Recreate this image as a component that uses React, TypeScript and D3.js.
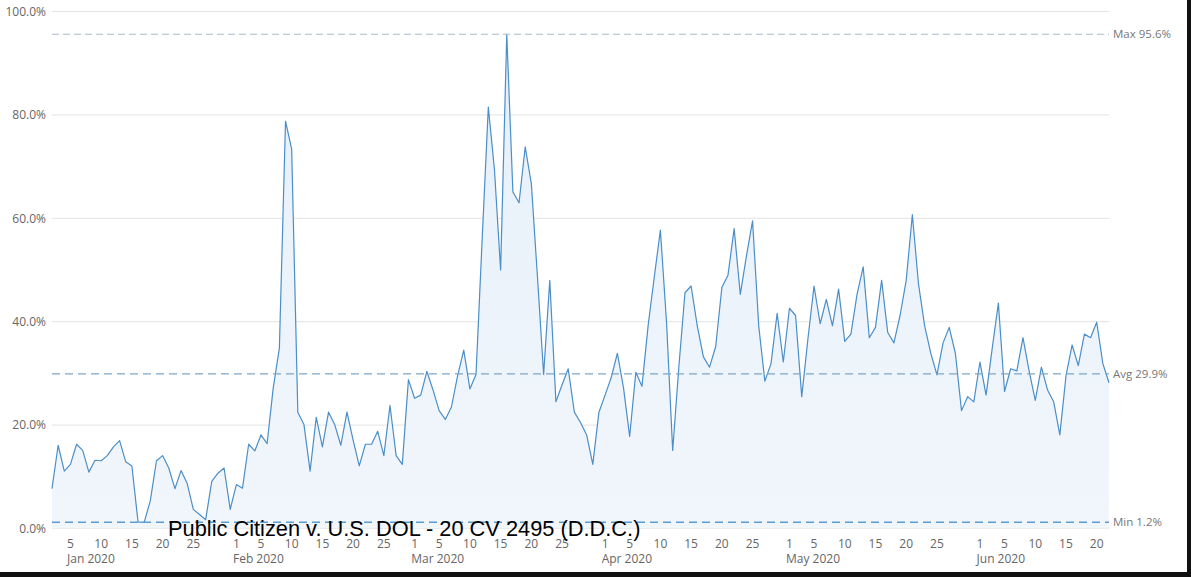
import React from "react";
import * as d3 from "d3";

// ---- data ----
const startDate = Date.UTC(2020, 0, 2); // first data point (Jan 2 2020)
const values: number[] = [
  // Jan 2 - Jan 31
  7.7, 16.1, 11.1, 12.4, 16.3, 15.1, 10.9, 13.2, 13.1, 14.1,
  15.8, 17.0, 12.9, 12.1, 1.3, 1.2, 5.4, 13.1, 14.1, 11.7,
  7.7, 11.2, 8.7, 3.7, 2.7, 1.7, 9.1, 10.7, 11.7, 3.7,
  // Feb 1 - Feb 29
  8.5, 7.8, 16.3, 15.0, 18.1, 16.4, 27.2, 34.9, 78.8, 73.4,
  22.5, 20.1, 11.1, 21.5, 15.8, 22.5, 20.1, 16.1, 22.5, 17.1,
  12.1, 16.3, 16.3, 18.8, 14.1, 23.8, 14.1, 12.4, 28.8,
  // Mar 1 - Mar 31
  25.2, 25.8, 30.4, 26.8, 22.8, 21.1, 23.5, 29.5, 34.5, 27.0,
  29.8, 56.0, 81.5, 69.4, 50.0, 95.6, 65.1, 63.0, 73.8, 66.7,
  48.6, 29.8, 48.0, 24.5, 27.8, 30.9, 22.5, 20.5, 18.1, 12.4,
  22.5,
  // Apr 1 - Apr 30
  25.8, 29.2, 33.9, 27.2, 17.8, 30.2, 27.5, 39.2, 48.6, 57.7,
  39.9, 15.1, 31.2, 45.6, 46.9, 39.2, 33.2, 31.2, 35.2, 46.6,
  49.0, 58.0, 45.3, 52.7, 59.5, 39.2, 28.5, 31.9, 41.6, 32.2,
  // May 1 - May 31
  42.6, 41.2, 25.5, 36.6, 46.9, 39.6, 44.3, 39.2, 46.3, 36.2,
  37.6, 45.3, 50.6, 36.9, 38.9, 48.0, 37.9, 35.9, 41.2, 48.0,
  60.7, 47.3, 39.2, 33.9, 29.7, 35.9, 38.9, 33.9, 22.8, 25.5,
  24.5,
  // Jun 1 - Jun 22
  32.2, 25.8, 34.9, 43.6, 26.5, 30.9, 30.5, 36.9, 30.5, 24.8,
  31.2, 26.8, 24.5, 18.1, 29.5, 35.5, 31.5, 37.6, 36.9, 39.9,
  31.9, 28.2,
];
const yTicks = [0, 20, 40, 60, 80, 100];
const dayTicks = [1, 5, 10, 15, 20, 25];
const refNames = ["Max", "Avg", "Min"];
const refValues = [95.6, 29.9, 1.2];
const caption = "Public Citizen v. U.S. DOL - 20 CV 2495 (D.D.C.)";

// ---- layout ----
const W = 1191;
const H = 577;
const plotLeft = 52;
const plotRight = 1109;
const plotTop = 11.5;
const plotBottom = 528.5;
const axisFont = "'Open Sans', 'Noto Sans', sans-serif";

const refStyles = [
  { stroke: "#a9b9c8", dash: "7,4", width: 1 },
  { stroke: "#7fa6c6", dash: "8,5", width: 1.2 },
  { stroke: "#5a9dd6", dash: "8,5", width: 1.6 },
];

export default function App() {
  const dates = values.map((_, i) => d3.utcDay.offset(new Date(startDate), i));
  const x = d3
    .scaleUtc()
    .domain([dates[0], dates[dates.length - 1]])
    .range([plotLeft, plotRight]);
  const y = d3.scaleLinear().domain([0, 100]).range([plotBottom, plotTop]);

  const pts = values.map((v, i) => ({ d: dates[i], v }));
  const line = d3
    .line<{ d: Date; v: number }>()
    .x((p) => x(p.d))
    .y((p) => y(p.v));
  const area = d3
    .area<{ d: Date; v: number }>()
    .x((p) => x(p.d))
    .y0(y(0))
    .y1((p) => y(p.v));

  const ticks = dates.filter((d) => dayTicks.includes(d.getUTCDate()));
  const monthFirst: Date[] = [];
  ticks.forEach((d) => {
    const last = monthFirst[monthFirst.length - 1];
    if (!last || last.getUTCMonth() !== d.getUTCMonth()) monthFirst.push(d);
  });
  const fmtMonth = d3.utcFormat("%b %Y");
  const fmtY = (v: number) => d3.format(".1f")(v) + "%";

  return (
    <svg
      width={W}
      height={H}
      style={{ position: "absolute", left: 0, top: 0, background: "#fff" }}
    >
      <defs>
        <linearGradient id="fillGrad" x1="0" y1="0" x2="0" y2="1">
          <stop offset="0%" stopColor="#e6f0fa" />
          <stop offset="100%" stopColor="#f1f6fb" />
        </linearGradient>
      </defs>
      <rect x={0} y={0} width={W} height={H} fill="#fff" />

      {/* grid */}
      {yTicks.map((t) => (
        <line
          key={"g" + t}
          x1={plotLeft}
          x2={plotRight}
          y1={y(t)}
          y2={y(t)}
          stroke="#e3e3e3"
          strokeWidth={1}
        />
      ))}

      {/* area + line */}
      <path d={area(pts) || ""} fill="url(#fillGrad)" />
      <path
        d={line(pts) || ""}
        fill="none"
        stroke="#4b8ec9"
        strokeWidth={1.2}
        strokeLinejoin="round"
      />

      {/* reference lines */}
      {refValues.map((v, i) => (
        <g key={"r" + i}>
          <line
            x1={plotLeft}
            x2={plotRight}
            y1={y(v)}
            y2={y(v)}
            stroke={refStyles[i].stroke}
            strokeWidth={refStyles[i].width}
            strokeDasharray={refStyles[i].dash}
          />
          <text
            x={plotRight + 4}
            y={y(v)}
            dy="0.35em"
            fontFamily={axisFont}
            fontSize={11.5}
            fill="#777"
          >
            {refNames[i] + " " + d3.format(".1f")(v) + "%"}
          </text>
        </g>
      ))}

      {/* y axis labels */}
      {yTicks.map((t) => (
        <text
          key={"y" + t}
          x={46}
          y={y(t)}
          dy="0.35em"
          textAnchor="end"
          fontFamily={axisFont}
          fontSize={12}
          fill="#666"
        >
          {fmtY(t)}
        </text>
      ))}

      {/* x axis labels */}
      {ticks.map((d, i) => (
        <text
          key={"x" + i}
          x={x(d)}
          y={548}
          textAnchor="middle"
          fontFamily={axisFont}
          fontSize={12}
          fill="#666"
        >
          {d.getUTCDate()}
        </text>
      ))}
      {monthFirst.map((d, i) => (
        <text
          key={"m" + i}
          x={x(d) - 3.4}
          y={563}
          fontFamily={axisFont}
          fontSize={12}
          fill="#666"
        >
          {fmtMonth(d)}
        </text>
      ))}

      {/* overlay caption */}
      <text
        x={168}
        y={536}
        fontFamily="'Liberation Sans', Arial, sans-serif"
        fontSize={21.8}
        fill="#000"
      >
        {caption}
      </text>

      {/* screenshot frame */}
      <rect x={0} y={572} width={W} height={5} fill="#111" />
      <rect x={1187} y={0} width={4} height={H} fill="#111" />
    </svg>
  );
}
